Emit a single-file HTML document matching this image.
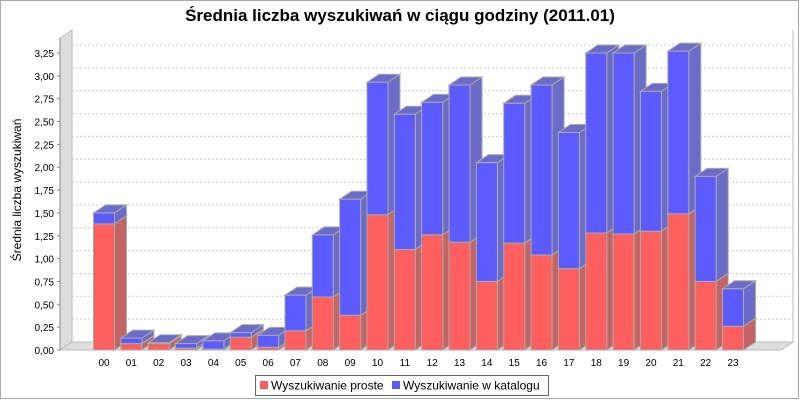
<!DOCTYPE html>
<html><head><meta charset="utf-8"><style>
body{margin:0;background:#fff;}
svg{display:block;font-family:"Liberation Sans",sans-serif;}
</style></head><body>
<svg id="chart" width="800" height="400">
<rect x="0.5" y="0.5" width="798" height="398" fill="#fff" stroke="#aaa"/>
<text x="400" y="21" text-anchor="middle" font-size="17" font-weight="bold">Średnia liczba wyszukiwań w ciągu godziny (2011.01)</text>
<g id="walls"></g>
<g id="grid"></g>
<g id="bars"></g>
<g id="axis"></g>
<text transform="translate(21,190) rotate(-90)" text-anchor="middle" font-size="12">Średnia liczba wyszukiwań</text>
<g>
<rect x="255.5" y="375.5" width="293" height="20" fill="#fff" stroke="#666"/>
<g><rect x="260" y="381" width="8" height="8" fill="#ff5f5f"/><text x="271" y="389.5" font-size="12">Wyszukiwanie proste</text></g>
<g><rect x="392" y="381" width="8" height="8" fill="#5b5bff"/><text x="403" y="389.5" font-size="12">Wyszukiwanie w katalogu</text></g>
</g>
</svg>
<script>
const categories=["00","01","02","03","04","05","06","07","08","09","10","11","12","13","14","15","16","17","18","19","20","21","22","23"];
const proste=[1.38,0.07,0.07,0.02,0.01,0.14,0.03,0.21,0.58,0.38,1.48,1.10,1.26,1.18,0.75,1.17,1.04,0.89,1.28,1.27,1.30,1.49,0.75,0.26];
const katalog=[0.12,0.06,0.01,0.05,0.09,0.05,0.13,0.39,0.68,1.27,1.45,1.48,1.45,1.72,1.30,1.53,1.86,1.49,1.97,1.98,1.53,1.78,1.15,0.41];
const ticks=[0,0.25,0.5,0.75,1,1.25,1.5,1.75,2,2.25,2.5,2.75,3,3.25];
const NS="http://www.w3.org/2000/svg";
const X0=60,Y0=350,DX=12,DY=8,PXU=(350-53)/3.25,XR=781,TOP=38;
const yS=v=>Y0-v*PXU;
const xS=i=>104+i*(733-104)/23;
const BW=21;
function mk(tag,attrs,parent){const e=document.createElementNS(NS,tag);for(const k in attrs)e.setAttribute(k,attrs[k]);parent.appendChild(e);return e;}
const walls=document.getElementById('walls'),grid=document.getElementById('grid'),bars=document.getElementById('bars'),axis=document.getElementById('axis');
const lw=mk('polygon',{points:`${X0},${Y0} ${X0},${TOP} ${X0+DX},${TOP-DY} ${X0+DX},${Y0-DY}`,fill:'#ddd',stroke:'#bbb'},walls);


const fl=mk('polygon',{points:`${X0},${Y0} ${X0+DX},${Y0-DY} ${XR+DX},${Y0-DY} ${XR},${Y0}`,fill:'#ddd',stroke:'#bbb'},walls);


const rb=mk('line',{x1:XR+DX,y1:TOP-DY,x2:XR+DX,y2:Y0-DY,stroke:'#bbb'},walls);


ticks.forEach(t=>{
  const y=yS(t);
  if(t>0){const g=mk('line',{x1:X0+DX,y1:y-DY,x2:XR+DX,y2:y-DY,stroke:'#ccc','stroke-dasharray':'2,2'},grid);
  
  }
  mk('line',{x1:X0-3,y1:y,x2:X0,y2:y,stroke:'#888'},axis);
  const l=mk('text',{x:X0-6,y:y+4,'text-anchor':'end','font-size':'10'},axis);
  l.textContent=t.toFixed(2).replace('.',',');
  
  
});
mk('line',{x1:X0,y1:TOP,x2:X0,y2:Y0,stroke:'#888'},axis);
function box(x,y1,y2,front,side,top,name){
  const g=mk('g',{},bars);
  
  
  mk('polygon',{points:`${x+BW},${y2} ${x+BW+DX},${y2-DY} ${x+BW+DX},${y1-DY} ${x+BW},${y1}`,fill:side,stroke:'#aaa'},g);
  mk('polygon',{points:`${x},${y2} ${x+DX},${y2-DY} ${x+BW+DX},${y2-DY} ${x+BW},${y2}`,fill:top,stroke:'#aaa'},g);
  mk('rect',{x:x,y:y2,width:BW,height:Math.max(0,y1-y2),fill:front,stroke:'#aaa'},g);
}
categories.forEach((c,i)=>{
  const x=xS(i)-BW/2;
  const r=yS(proste[i]),t=yS(proste[i]+katalog[i]);
  box(x,Y0,r,'#ff5f5f','#c46464','#c46464','bar-proste-'+c);
  box(x,r,t,'#5b5bff','#6b6bc8','#6b6bc8','bar-katalog-'+c);
  const l=mk('text',{x:xS(i),y:366,'text-anchor':'middle','font-size':'10'},axis);
  l.textContent=c;
  
  
});
</script>
</body></html>
